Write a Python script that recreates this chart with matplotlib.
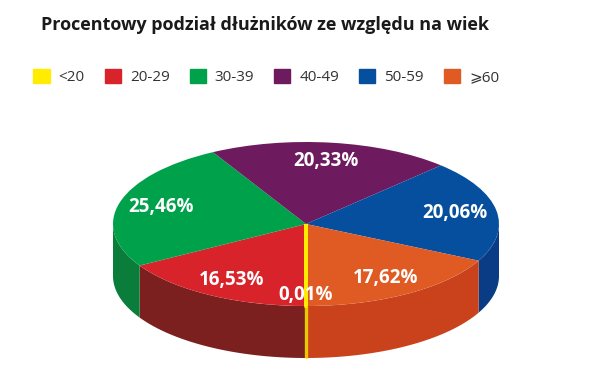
import numpy as np
import matplotlib.pyplot as plt
from matplotlib.patches import Patch

plt.rcParams['font.family'] = ['Open Sans', 'DejaVu Sans']

# dane
kategorie = ['<20', '20-29', '30-39', '40-49', '50-59', '⩾60']
procenty = [0.01, 16.53, 25.46, 20.33, 20.06, 17.62]
etykiety = ['0,01%', '16,53%', '25,46%', '20,33%', '20,06%', '17,62%']
kolory = ['#ffec00', '#d9232a', '#00a14b', '#6e1a5e', '#054f9e', '#e05a24']
kolory_boku = ['#e8c800', '#7b201e', '#0b7d3a', '#4a1040', '#0a3c86', '#c9421c']

W, H = 600, 377
fig = plt.figure(figsize=(W / 100, H / 100), dpi=100)
ax = fig.add_axes([0, 0, 1, 1])

# elipsa: polos pozioma i pionowa w pikselach, srodek, grubosc
a, b = 193, 82
cx, cy = 306, H - 224
grubosc = 52 / b

wedges, _ = ax.pie(procenty, colors=kolory, startangle=-90, counterclock=False,
                   radius=1, wedgeprops=dict(linewidth=0))
wedges[0].set_edgecolor(kolory[0])
wedges[0].set_linewidth(2.4)
wedges[0].set_zorder(3)

# bok tortu (tylko przednia polowa)
for i, (w, kol) in enumerate(zip(wedges, kolory_boku)):
    t1, t2 = sorted([w.theta1, w.theta2])
    t1, t2 = t1 % 360, t1 % 360 + (t2 - t1)
    for przes in (0, -360, 360):
        lo = max(t1 + przes, 180)
        hi = min(t2 + przes, 360)
        if hi <= lo:
            continue
        t = np.radians(np.linspace(lo, hi, 60))
        xs = np.concatenate([np.cos(t), np.cos(t[::-1])])
        ys = np.concatenate([np.sin(t), np.sin(t[::-1]) - grubosc])
        if i == 0:
            ax.fill(xs, ys, color=kol, lw=2.4, ec=kol, zorder=0.6)
        else:
            ax.fill(xs, ys, color=kol, lw=0, zorder=0.5)

# etykiety procentowe
for w, txt in zip(wedges, etykiety):
    ang = np.radians((w.theta1 + w.theta2) / 2)
    r = 0.86 if txt == '0,01%' else 0.78
    ax.text(r * np.cos(ang), r * np.sin(ang), txt, color='white',
            fontsize=13.5, fontweight='bold', ha='center', va='center', zorder=4)

ax.set_aspect('auto')
ax.set_xlim(-cx / a, (W - cx) / a)
ax.set_ylim(-cy / b, (H - cy) / b)
ax.axis('off')

fig.text(0.442, 0.934, 'Procentowy podział dłużników ze względu na wiek',
         ha='center', va='center', fontsize=13, fontweight='bold', color='#1a1a1a')

uchwyty = [Patch(color=k) for k in kolory]
fig.legend(uchwyty, kategorie, loc='center', bbox_to_anchor=(0.444, 0.796),
           ncol=6, frameon=False, fontsize=11, handlelength=1.05, handleheight=1.05,
           handletextpad=0.6, columnspacing=1.3, labelcolor='#333333')

fig.savefig('out.png', dpi=100)
